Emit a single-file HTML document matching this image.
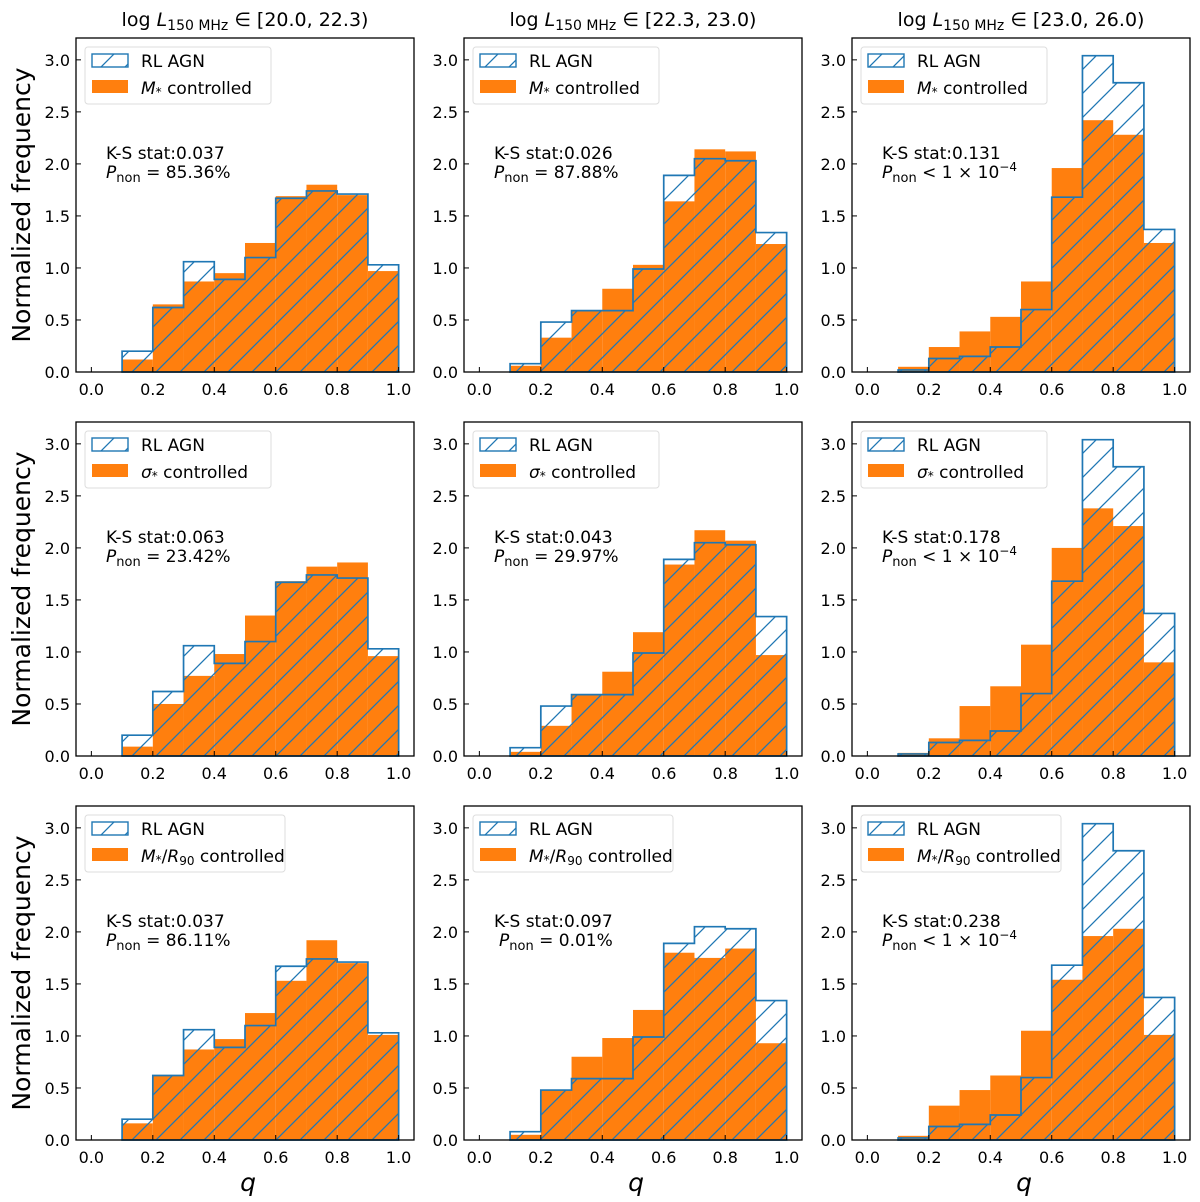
<!DOCTYPE html>
<html><head><meta charset="utf-8"><style>
body{margin:0;background:#fff}
svg{display:block;font-family:"DejaVu Sans","Liberation Sans",sans-serif}
</style></head><body>
<svg id="fig" width="1200" height="1202" viewBox="0 0 1200 1202" xmlns="http://www.w3.org/2000/svg">
<defs>
<pattern id="hatch" patternUnits="userSpaceOnUse" width="24" height="24">
<path d="M-6,6 L6,-6 M0,24 L24,0 M18,30 L30,18" stroke="#1f77b4" stroke-width="1.3"/>
</pattern>
</defs>
</svg>
<script>
const binEdges=[0.1,0.2,0.3,0.4,0.5,0.6,0.7,0.8,0.9,1.0];
const rlCol1=[0.20,0.62,1.06,0.89,1.10,1.67,1.74,1.71,1.03];
const rlCol2=[0.08,0.48,0.59,0.59,0.99,1.89,2.05,2.03,1.34];
const rlCol3=[0.02,0.13,0.15,0.24,0.60,1.68,3.04,2.78,1.37];
const ctrlR1C1=[0.12,0.65,0.87,0.95,1.24,1.69,1.80,1.70,0.97];
const ctrlR1C2=[0.06,0.33,0.59,0.80,1.03,1.64,2.14,2.12,1.23];
const ctrlR1C3=[0.05,0.24,0.39,0.53,0.87,1.96,2.42,2.28,1.24];
const ctrlR2C1=[0.09,0.50,0.77,0.98,1.35,1.68,1.82,1.86,0.96];
const ctrlR2C2=[0.04,0.29,0.59,0.81,1.19,1.84,2.17,2.07,0.97];
const ctrlR2C3=[0.03,0.17,0.48,0.67,1.07,2.00,2.38,2.21,0.90];
const ctrlR3C1=[0.16,0.62,0.87,0.97,1.22,1.53,1.92,1.70,1.01];
const ctrlR3C2=[0.05,0.48,0.80,0.98,1.25,1.80,1.75,1.84,0.93];
const ctrlR3C3=[0.04,0.33,0.48,0.62,1.05,1.54,1.96,2.03,1.01];
const ksStats=[["0.037","0.026","0.131"],["0.063","0.043","0.178"],["0.037","0.097","0.238"]];
const pValues=[["85.36%","87.88%",null],["23.42%","29.97%",null],["86.11%","0.01%",null]];
const xTicks=[0,0.2,0.4,0.6,0.8,1.0];
const xTickLabels=["0.0","0.2","0.4","0.6","0.8","1.0"];
const yTicks=[0,0.5,1,1.5,2,2.5,3];
const yTickLabels=["0.0","0.5","1.0","1.5","2.0","2.5","3.0"];
const colTitles=[["20.0","22.3"],["22.3","23.0"],["23.0","26.0"]];
const rlData=[rlCol1,rlCol2,rlCol3];
const ctrlData=[[ctrlR1C1,ctrlR1C2,ctrlR1C3],[ctrlR2C1,ctrlR2C2,ctrlR2C3],[ctrlR3C1,ctrlR3C2,ctrlR3C3]];
const ctrlLabels=['<tspan font-style="italic">M</tspan><tspan font-size="12" dy="2">*</tspan><tspan dy="-2"> controlled</tspan>',
'<tspan font-style="italic">σ</tspan><tspan font-size="12" dy="2">*</tspan><tspan dy="-2"> controlled</tspan>',
'<tspan font-style="italic">M</tspan><tspan font-size="12" dy="2">*</tspan><tspan dy="-2">/</tspan><tspan font-style="italic">R</tspan><tspan font-size="12" dy="3">90</tspan><tspan dy="-3"> controlled</tspan>'];
const rowNames=["mstar","sigma","mstar-r90"];

const NS="http://www.w3.org/2000/svg";
const svg=document.getElementById('fig');
const colX=[76,464,852], rowY=[38,422,806], W=338, H=334;
const XMIN=-0.05,XMAX=1.05,YMAX=3.21;
function mk(tag,attrs,parent){const e=document.createElementNS(NS,tag);for(const k in attrs)e.setAttribute(k,attrs[k]);parent.appendChild(e);return e;}

for(let c=0;c<3;c++){
  const t=mk('text',{x:colX[c]+W/2,y:26,'text-anchor':'middle','font-size':'19'},svg);
  
  
  t.innerHTML='log <tspan font-style="italic">L</tspan><tspan font-size="14" dy="4">150 MHz</tspan><tspan dy="-4"> ∈ [' +colTitles[c][0]+', '+colTitles[c][1]+')</tspan>';
}

for(let r=0;r<3;r++){
  const yl=mk('text',{x:0,y:0,'text-anchor':'middle','font-size':'25',transform:`translate(30,${rowY[r]+H/2}) rotate(-90)`},svg);
  
  
  yl.textContent='Normalized frequency';
  for(let c=0;c<3;c++){
    const x0=colX[c], y0=rowY[r];
    const sx=v=>x0+(v-XMIN)/(XMAX-XMIN)*W;
    const sy=v=>y0+H-v/YMAX*H;
    const g=mk('g',{},svg);
    
    
    const ctrl=ctrlData[r][c], rl=rlData[c];
    for(let i=0;i<ctrl.length;i++){
      const b=mk('rect',{x:sx(binEdges[i]),y:sy(ctrl[i]),width:sx(binEdges[i+1])-sx(binEdges[i]),height:sy(0)-sy(ctrl[i]),fill:'#ff7f0e'},g);
      
      
    }
    let d=`M${sx(binEdges[0])},${sy(0)}`;
    for(let i=0;i<rl.length;i++){d+=` L${sx(binEdges[i])},${sy(rl[i])} L${sx(binEdges[i+1])},${sy(rl[i])}`;}
    d+=` L${sx(binEdges[rl.length])},${sy(0)} Z`;
    const p=mk('path',{d:d,fill:'url(#hatch)',stroke:'#1f77b4','stroke-width':'1.7'},g);
    
    
    const fr=mk('rect',{x:x0,y:y0,width:W,height:H,fill:'none',stroke:'#000','stroke-width':'1.3'},g);
    
    
    xTicks.forEach((v,i)=>{
      mk('line',{x1:sx(v),x2:sx(v),y1:y0+H,y2:y0+H-5,stroke:'#000','stroke-width':'1'},g);
      const t=mk('text',{x:sx(v),y:y0+H+23,'text-anchor':'middle','font-size':'16'},g);
      
      
      t.textContent=xTickLabels[i];
    });
    yTicks.forEach((v,i)=>{
      mk('line',{x1:x0,x2:x0+5,y1:sy(v),y2:sy(v),stroke:'#000','stroke-width':'1'},g);
      const t=mk('text',{x:x0-6,y:sy(v)+6,'text-anchor':'end','font-size':'16'},g);
      
      
      t.textContent=yTickLabels[i];
    });
    const lg=mk('g',{},g);
    
    
    const lw = r===2?200:186;
    mk('rect',{x:x0+9,y:y0+9,width:lw,height:57,rx:3,fill:'#fff','fill-opacity':'0.8',stroke:'#ddd'},lg);
    mk('rect',{x:x0+16,y:y0+16,width:36,height:13,fill:'url(#hatch)',stroke:'#1f77b4','stroke-width':'1.4'},lg);
    mk('rect',{x:x0+16,y:y0+42,width:36,height:13,fill:'#ff7f0e'},lg);
    const l1=mk('text',{x:x0+65,y:y0+29,'font-size':'17'},lg);l1.textContent='RL AGN';
    
    
    const l2=mk('text',{x:x0+65,y:y0+56,'font-size':'17'},lg);l2.innerHTML=ctrlLabels[r];
    
    
    const k=mk('text',{x:x0+30,y:y0+121,'font-size':'17'},g);k.textContent='K-S stat:'+ksStats[r][c];
    
    
    const pt=mk('text',{x:x0+(r===2&&c===1?35:30),y:y0+140,'font-size':'17'},g);
    
    
    const pv=pValues[r][c];
    pt.innerHTML='<tspan font-style="italic">P</tspan><tspan font-size="13" dy="4">non</tspan><tspan dy="-4">'+(pv?' = '+pv:' &lt; 1 × 10</tspan><tspan font-size="12" dy="-7">−4</tspan><tspan dy="7">')+'</tspan>';
  }
}
for(let c=0;c<3;c++){
  const q=mk('text',{x:colX[c]+W/2+3,y:1191,'text-anchor':'middle','font-size':'25','font-style':'italic'},svg);
  
  
  q.textContent='q';
}
</script>
</body></html>
